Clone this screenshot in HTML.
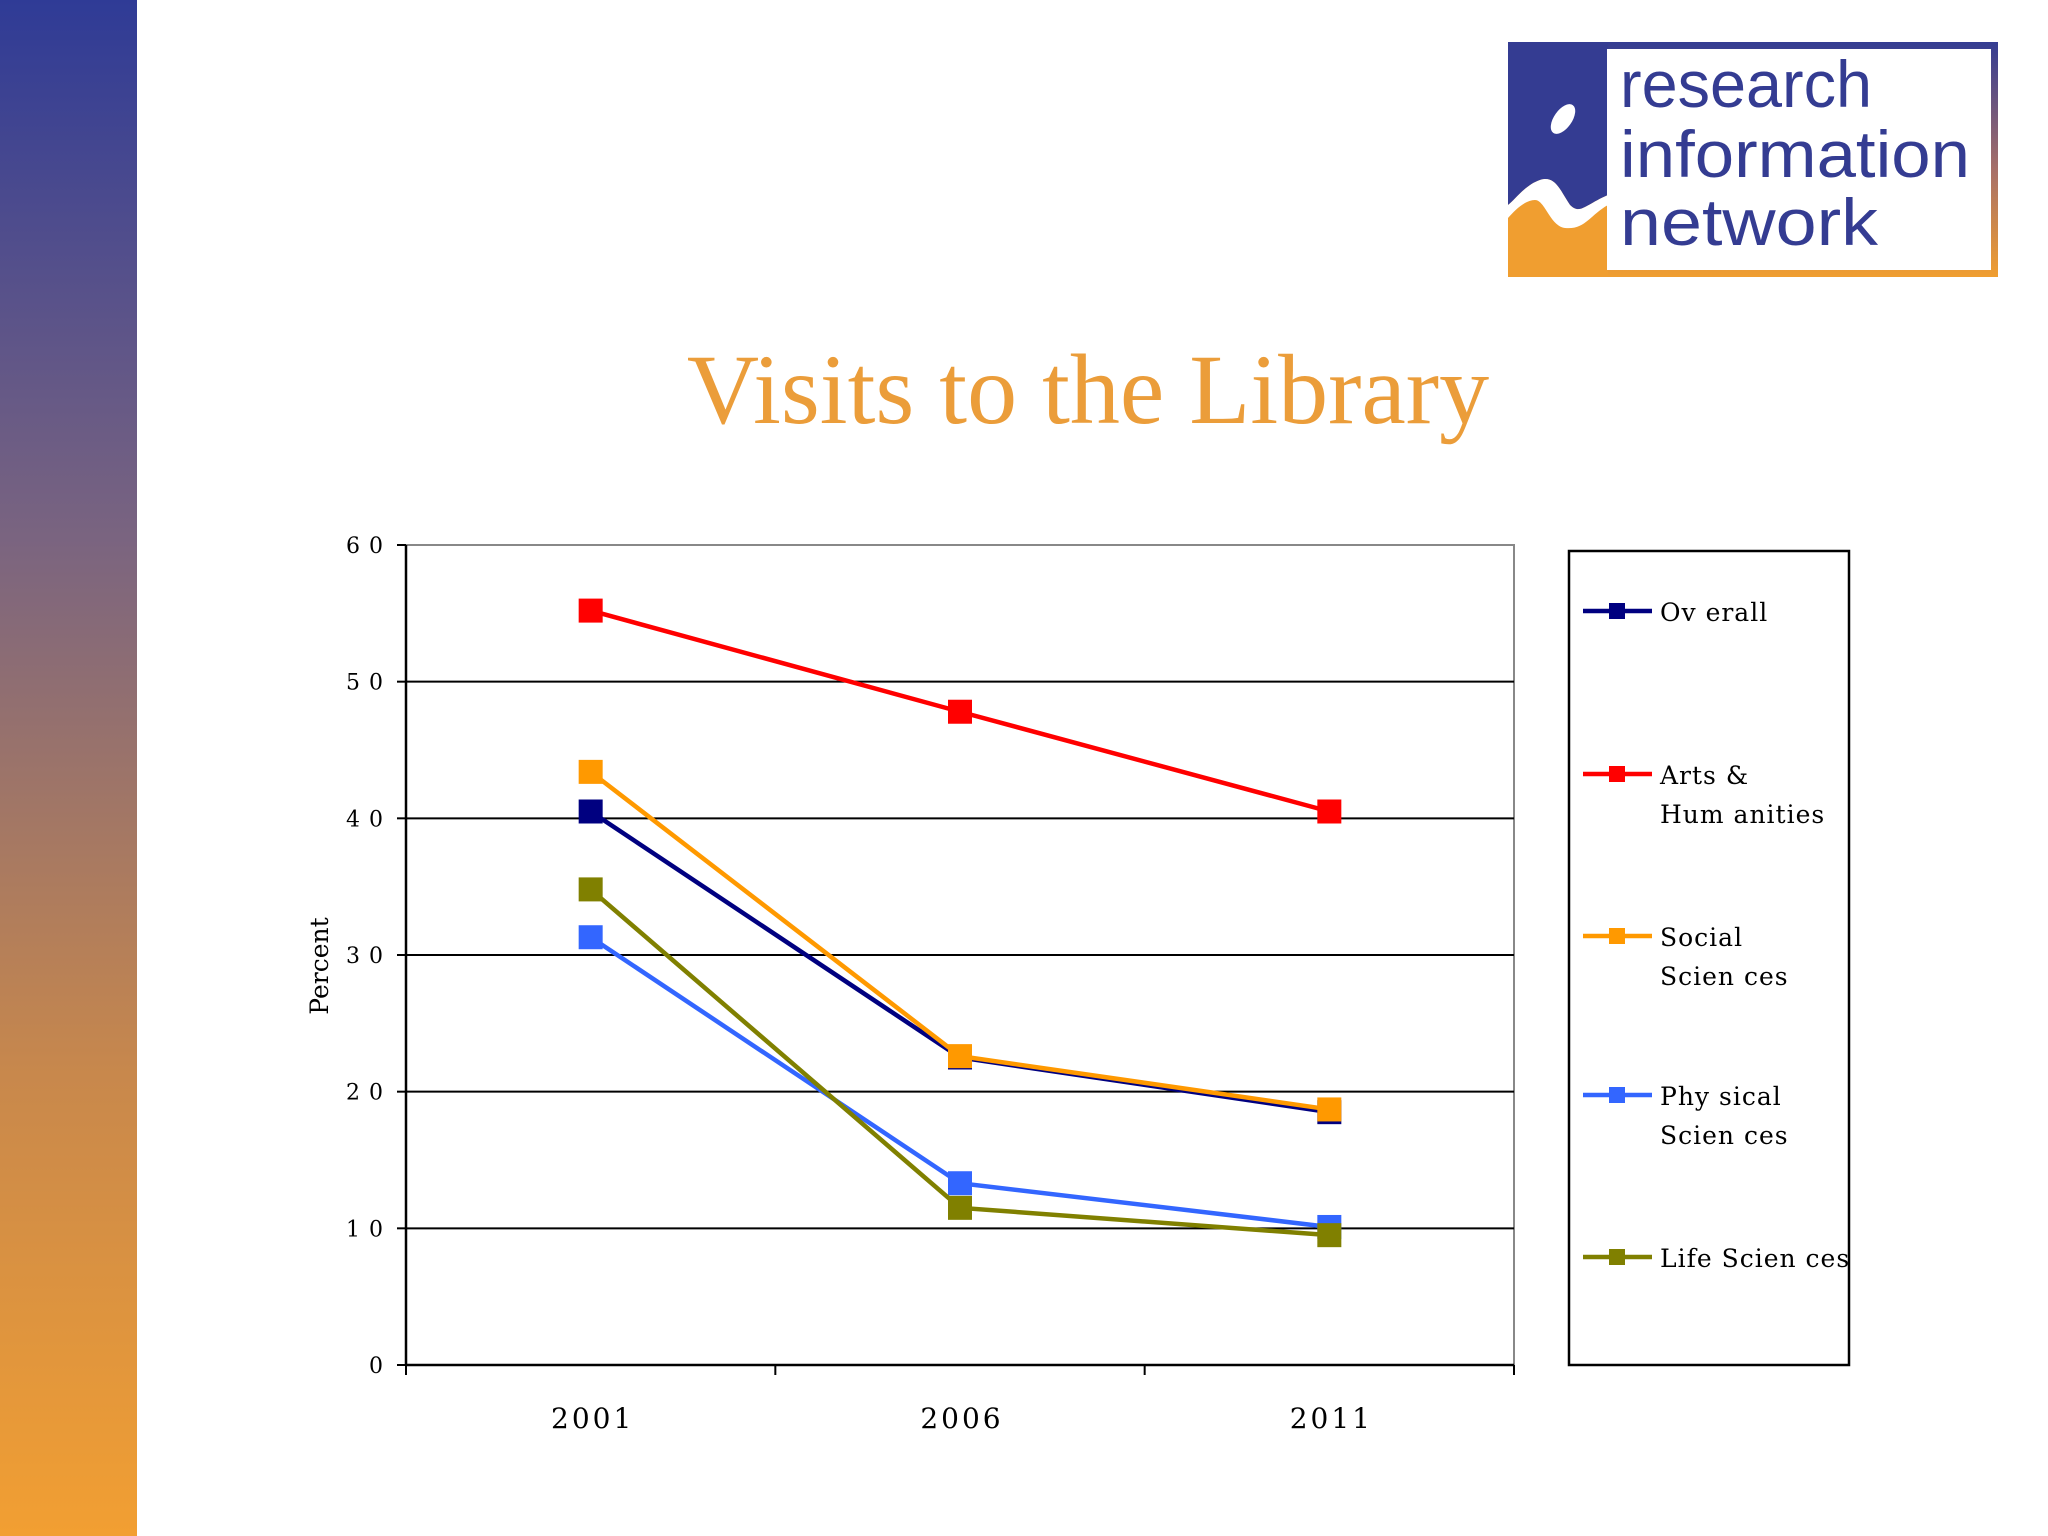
<!DOCTYPE html>
<html><head><meta charset="utf-8">
<style>
html,body{margin:0;padding:0;background:#fff;}
body{width:2048px;height:1536px;position:relative;overflow:hidden;font-family:"Liberation Serif",serif;}
</style></head>
<body>
<div style="position:absolute;left:0;top:0;width:137px;height:1536px;background:linear-gradient(#2f3b96,#7a6480 35%,#c8884c 70%,#f29f32);"></div>
<svg style="position:absolute;left:0;top:0" width="2048" height="300">
  <defs><linearGradient id="fr" x1="0" y1="0" x2="0" y2="1"><stop offset="0" stop-color="#343c92"/><stop offset="0.55" stop-color="#a87068"/><stop offset="1" stop-color="#f09e30"/></linearGradient></defs>
  <rect x="1508" y="42" width="490" height="235" fill="url(#fr)"/>
  <rect x="1508" y="42" width="100" height="235" fill="#f09e30"/>
  <path d="M1508 42 H1608 V195 C1585 205 1580 215 1570 205 C1560 190 1555 175 1540 180 C1525 185 1515 200 1508 205 Z" fill="#343c92"/>
  <path d="M1508 205 C1515 200 1525 185 1540 180 C1555 175 1560 190 1570 205 C1580 215 1585 205 1608 195 V205 C1590 215 1585 230 1565 228 C1550 226 1545 200 1535 200 C1525 200 1515 210 1508 218 Z" fill="#fff"/>
  <ellipse cx="1563" cy="119" rx="9" ry="17" transform="rotate(35 1563 119)" fill="#fff"/>
  <rect x="1607" y="49" width="384" height="221" fill="#fff"/>
  <g fill="#343c92" font-family="'Liberation Sans',sans-serif" font-size="66">
    <text x="1620" y="107" textLength="252" lengthAdjust="spacingAndGlyphs">research</text>
    <text x="1620" y="177" textLength="350" lengthAdjust="spacingAndGlyphs">information</text>
    <text x="1620" y="245" textLength="258" lengthAdjust="spacingAndGlyphs">network</text>
  </g>
</svg>
<div style="position:absolute;left:0;width:2176px;top:330px;text-align:center;font-family:'Liberation Serif',serif;font-size:100px;color:#eb9d3a;line-height:120px;">Visits to the Library</div>
<svg id="chart" style="position:absolute;left:0;top:0" width="2048" height="1536"></svg>
<script>
const categories=["2001","2006","2011"];
const yTicks=[0,10,20,30,40,50,60];
const yTickLabels=["0","1 0","2 0","3 0","4 0","5 0","6 0"];
const seriesNames=["Overall","Arts & Humanities","Social Sciences","Physical Sciences","Life Sciences"];
const legendLines=[["Ov erall"],["Arts &","Hum anities"],["Social","Scien ces"],["Phy sical","Scien ces"],["Life Scien ces"]];
const overall=[40.5,22.5,18.5];
const arts=[55.2,47.8,40.5];
const social=[43.4,22.6,18.7];
const physical=[31.3,13.3,10.1];
const life=[34.8,11.5,9.5];
const colors=["#000080","#ff0000","#ff9900","#3366ff","#808000"];
const allSeries=[overall,arts,social,physical,life];
const NS="http://www.w3.org/2000/svg";
const svg=document.getElementById('chart');
const L=406,R=1514,T=545,B=1365,yMax=60;
const FF="DejaVu Serif, Liberation Serif, serif";
const x=i=>L+(R-L)/categories.length*(i+0.5);
const y=v=>B-(v/yMax)*(B-T);
function mk(t,a,p){const e=document.createElementNS(NS,t);for(const k in a)e.setAttribute(k,a[k]);(p||svg).appendChild(e);return e;}
let e;
e=mk('rect',{x:L,y:T,width:R-L,height:B-T,fill:'none',stroke:'#888','stroke-width':2});


yTicks.forEach((t,i)=>{
  if(t>0&&t<yMax){e=mk('line',{x1:L,x2:R,y1:y(t),y2:y(t),stroke:'#000','stroke-width':2});
  
  }
  e=mk('line',{x1:L-9,x2:L,y1:y(t),y2:y(t),stroke:'#000','stroke-width':2});
  
  
  e=mk('text',{x:L-22,y:y(t)+8,'text-anchor':'end','font-size':22,'letter-spacing':'1','font-family':FF});
  e.textContent=yTickLabels[i];
  
  
});
e=mk('line',{x1:L,x2:L,y1:T,y2:B,stroke:'#000','stroke-width':2.5});


e=mk('line',{x1:L,x2:R,y1:B,y2:B,stroke:'#000','stroke-width':2.5});


for(let i=0;i<=categories.length;i++){
  const xx=L+(R-L)/categories.length*i;
  e=mk('line',{x1:xx,x2:xx,y1:B,y2:B+10,stroke:'#000','stroke-width':2});
  
  
}
categories.forEach((c,i)=>{
  e=mk('text',{x:x(i)+2,y:1428,'text-anchor':'middle','font-size':28,'letter-spacing':'3','font-family':FF});
  e.textContent=c;
  
  
});
e=mk('text',{x:0,y:0,transform:'translate(328,966) rotate(-90)','text-anchor':'middle','font-size':25,'font-family':FF});
e.textContent='Percent';


allSeries.forEach((s,si)=>{
  const g=mk('g',{});
  
  
  e=mk('polyline',{points:s.map((v,i)=>x(i)+','+y(v)).join(' '),fill:'none',stroke:colors[si],'stroke-width':4.5},g);
  
  
  s.forEach((v,i)=>{
    e=mk('rect',{x:x(i)-12,y:y(v)-12,width:24,height:24,fill:colors[si]},g);
    
    
  });
});
e=mk('rect',{x:1569,y:551,width:280,height:814,fill:'#fff',stroke:'#000','stroke-width':2.5});


const legY=[611,774,936,1095,1257];
legendLines.forEach((lines,i)=>{
  const g=mk('g',{});
  
  
  mk('line',{x1:1583,x2:1652,y1:legY[i],y2:legY[i],stroke:colors[i],'stroke-width':4.5},g);
  mk('rect',{x:1609,y:legY[i]-8,width:16,height:16,fill:colors[i]},g);
  lines.forEach((ln,j)=>{
    const t=mk('text',{x:1660,y:legY[i]+10+j*39,'font-size':25,'letter-spacing':'1','font-family':FF},g);
    t.textContent=ln;
  });
});
</script>
</body></html>
